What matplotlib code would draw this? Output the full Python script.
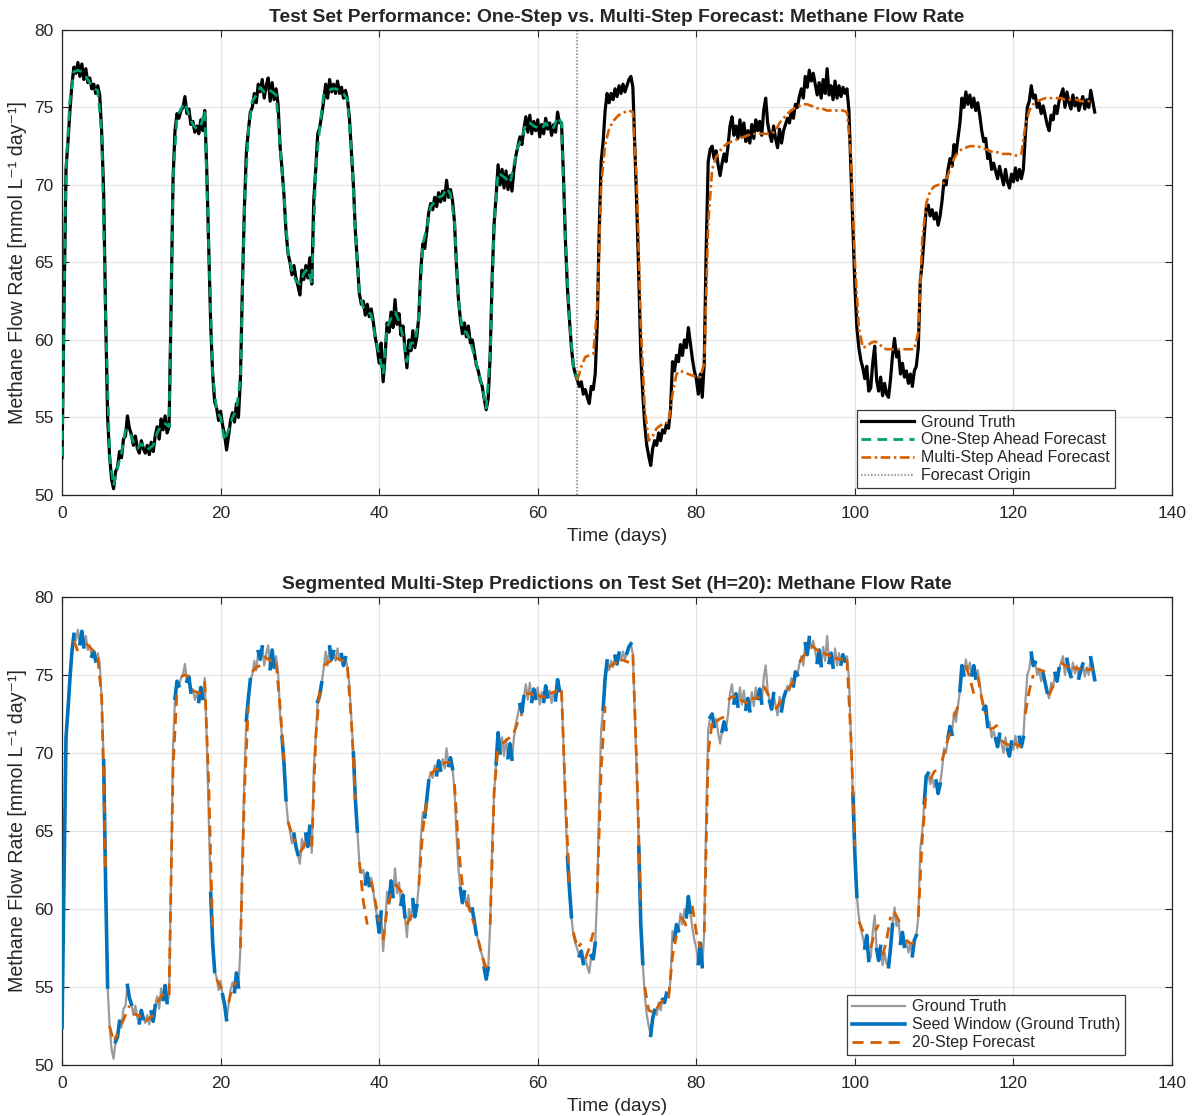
import numpy as np
import matplotlib
matplotlib.use("Agg")
import matplotlib.pyplot as plt

plt.rcParams["font.family"] = ["Liberation Sans", "DejaVu Sans"]
plt.rcParams["lines.scale_dashes"] = False

# ---------------------------------------------------------------------------
# Data
# ---------------------------------------------------------------------------
sample_step = 0.25          # days between ground-truth samples
forecast_origin = 65.0      # day where the multi-step rollout begins

# measured methane flow rate, four samples per day (rows = days 0..130)
methane_truth = [
    52.4, 62.0, 71.0, 72.8,  74.8, 76.5, 77.6, 77.2,  77.9, 77.0, 77.8, 76.8,
    77.5, 76.6, 76.9, 76.2,  76.5, 75.9, 76.4, 75.8,  73.4, 69.5, 61.5, 55.0,
    52.5, 51.0, 50.4, 51.5,  51.8, 52.8, 52.4, 53.6,  53.8, 55.1, 54.3, 53.9,
    53.2, 53.8, 53.0, 52.7,  53.5, 53.0, 52.7, 53.2,  52.6, 53.4, 52.8, 53.8,
    54.4, 53.6, 54.9, 54.2,  55.1, 54.0, 54.4, 62.0,  70.4, 73.5, 74.6, 74.3,
    74.8, 75.0, 75.7, 74.6,  74.9, 73.9, 74.1, 73.4,  73.8, 73.3, 74.2, 73.5,
    74.8, 71.0, 66.0, 61.0,  57.8, 56.0, 55.6, 54.8,  55.4, 54.5, 53.9, 52.9,
    53.8, 54.8, 55.3, 54.7,  55.9, 55.0, 57.5, 63.5,  68.5, 72.1, 73.5, 74.7,
    75.0, 75.9, 75.3, 76.5,  76.0, 76.8, 75.6, 76.4,  76.9, 75.4, 76.6, 75.5,
    76.2, 75.2, 72.5, 71.0,  69.3, 67.0, 65.6, 65.0,  64.2, 64.8, 64.0, 63.5,
    62.9, 64.5, 63.9, 64.8,  64.0, 65.3, 63.6, 69.0,  71.0, 73.3, 73.7, 74.5,
    75.4, 76.5, 75.6, 76.8,  76.0, 76.5, 75.9, 76.7,  75.9, 76.3, 75.6, 76.1,
    75.5, 74.3, 72.2, 70.0,  67.0, 65.0, 63.0, 62.3,  62.5, 61.6, 62.3, 61.5,
    62.0, 61.2, 60.2, 59.5,  58.5, 59.8, 57.3, 59.0,  61.1, 60.5, 61.8, 60.8,
    62.6, 61.0, 61.7, 60.3,  60.9, 59.5, 58.2, 60.0,  59.3, 60.6, 59.5, 60.2,
    61.5, 64.5, 66.2, 65.9,  67.0, 68.2, 68.8, 68.4,  69.2, 68.6, 69.5, 68.9,
    69.6, 69.0, 70.3, 69.2,  69.7, 69.0, 67.6, 64.8,  62.6, 61.3, 60.4, 61.1,
    60.2, 60.9, 59.8, 60.0,  59.2, 58.4, 58.0, 57.4,  57.0, 56.2, 55.5, 56.2,
    59.0, 64.0, 67.5, 69.3,  71.3, 70.0, 71.0, 69.8,  70.9, 69.7, 70.6, 69.6,
    71.0, 71.9, 72.5, 73.1,  72.6, 73.6, 74.4, 73.4,  74.5, 73.3, 74.1, 73.5,
    74.2, 73.1, 73.9, 73.3,  74.3, 73.6, 74.0, 73.2,  73.9, 73.4, 74.7, 74.0,
    74.0, 70.5, 66.3, 63.3,  61.3, 59.5, 58.3, 57.8,  57.4, 57.0, 57.3, 56.5,
    56.8, 56.3, 55.9, 57.0,  56.8, 57.8, 61.0, 67.0,  71.5, 72.8, 74.8, 75.9,
    75.3, 75.9, 75.5, 76.2,  75.7, 76.4, 75.9, 76.5,  76.0, 76.4, 76.8, 77.0,
    76.3, 72.5, 68.5, 64.0,  59.0, 56.5, 54.5, 53.2,  52.5, 51.9, 53.0, 53.5,
    53.2, 54.0, 53.5, 54.2,  54.0, 54.6, 54.3, 55.5,  58.6, 58.0, 59.0, 58.6,
    59.7, 59.0, 60.0, 59.5,  60.8, 59.8, 58.8, 58.0,  57.5, 56.5, 57.8, 56.3,
    58.5, 66.0, 71.5, 72.3,  72.5, 71.7, 72.2, 71.3,  70.6, 71.4, 72.0, 71.5,
    72.5, 73.8, 74.4, 73.2,  73.8, 73.0, 74.2, 73.1,  74.0, 72.8, 73.5, 72.7,
    73.9, 73.0, 74.2, 73.5,  74.1, 73.2, 74.8, 75.6,  74.0, 73.3, 72.8, 73.8,
    73.0, 72.4, 73.6, 72.7,  73.5, 73.9, 74.3, 74.0,  74.8, 74.3, 75.2, 75.0,
    75.7, 76.2, 75.6, 77.0,  76.3, 77.4, 76.7, 77.2,  76.5, 75.8, 76.6, 75.6,
    76.8, 75.9, 77.5, 75.8,  76.4, 75.5, 76.7, 75.6,  76.4, 75.7, 76.3, 75.9,
    76.2, 74.8, 71.0, 67.4,  63.5, 60.8, 59.5, 58.7,  58.2, 57.5, 58.3, 56.7,
    56.9, 58.5, 59.6, 57.4,  56.7, 57.6, 56.4, 57.2,  56.5, 56.3, 57.5, 59.0,
    60.1, 58.9, 59.3, 57.8,  58.5, 57.6, 58.0, 57.2,  57.8, 57.0, 58.0, 58.3,
    59.5, 63.8, 65.0, 66.8,  68.5, 68.7, 68.0, 68.4,  67.8, 68.2, 67.4, 68.0,
    69.0, 70.3, 70.0, 71.0,  71.7, 71.2, 72.6, 72.0,  73.0, 74.0, 75.6, 75.0,
    76.0, 75.2, 75.8, 75.0,  75.6, 74.8, 75.3, 74.5,  73.5, 72.8, 73.0, 71.7,
    72.0, 71.0, 71.4, 70.9,  70.4, 71.2, 70.6, 70.0,  71.0, 70.2, 69.8, 70.7,
    70.2, 71.1, 70.3, 71.0,  70.4, 71.0, 73.2, 75.0,  75.4, 76.4, 75.6, 75.8,
    75.0, 75.3, 74.6, 75.1,  74.5, 73.9, 73.5, 74.5,  74.2, 75.1, 74.6, 75.4,
    75.8, 76.2, 75.0, 76.0,  75.3, 74.9, 75.8, 75.1,  75.6, 74.8, 75.3, 75.7,
    74.9, 75.5, 75.0, 76.1,  75.4, 74.7,
]

# one-step-ahead predictions, two per day, days 0..65
one_step_pred = [
    52.5, 71.0, 75.5, 77.3, 77.4, 77.3, 77.0, 76.6, 76.2, 76.1,
    73.4, 61.5, 52.5, 50.6, 51.8, 52.7, 54.2, 54.1, 53.4, 53.0,
    53.3, 52.9, 53.0, 53.2, 54.0, 54.5, 54.6, 54.4, 70.4, 74.4,
    74.9, 75.3, 74.5, 73.9, 73.6, 73.8, 74.8, 66.0, 57.8, 55.4,
    55.0, 53.5, 54.2, 55.0, 55.5, 57.5, 68.5, 73.5, 75.4, 75.8,
    76.3, 76.0, 76.2, 76.0, 75.8, 72.5, 69.3, 65.6, 64.5, 63.8,
    63.6, 64.3, 64.6, 63.6, 71.0, 73.7, 75.8, 76.0, 76.2, 76.2,
    76.1, 75.9, 75.5, 72.2, 67.0, 63.0, 62.1, 61.9, 61.6, 60.2,
    59.0, 57.8, 60.8, 61.4, 61.8, 61.2, 60.2, 58.6, 59.8, 59.8,
    61.5, 66.2, 67.2, 68.6, 68.9, 69.2, 69.3, 69.8, 69.4, 67.6,
    62.6, 60.6, 60.5, 59.9, 59.0, 58.0, 57.0, 55.6, 59.0, 67.5,
    70.8, 70.6, 70.4, 70.1, 71.3, 72.5, 73.0, 74.0, 74.0, 73.8,
    73.7, 73.6, 74.0, 73.6, 73.7, 74.4, 74.0, 66.3, 61.3, 58.3,
    57.4,
]

# free-running multi-step predictions, two per day, days 65..130
multi_step_pred = [
    57.4, 58.3, 58.9, 59.0, 59.1, 62.0, 70.0, 72.6, 73.6, 74.1,
    74.4, 74.6, 74.7, 74.8, 74.7, 70.0, 61.0, 55.5, 53.5, 53.8,
    54.3, 54.5, 54.6, 54.7, 56.5, 57.8, 58.0, 57.9, 57.8, 57.7,
    57.6, 57.6, 58.5, 67.5, 71.0, 71.8, 72.2, 72.5, 72.7, 72.8,
    72.9, 73.0, 73.1, 73.2, 73.3, 73.3, 73.3, 73.3, 73.3, 73.3,
    73.5, 74.0, 74.3, 74.6, 74.8, 75.0, 75.1, 75.2, 75.2, 75.1,
    75.0, 74.9, 74.9, 74.8, 74.8, 74.8, 74.8, 74.8, 74.7, 72.0,
    65.0, 60.8, 59.5, 59.6, 59.8, 59.9, 59.8, 59.5, 59.4, 59.4,
    59.4, 59.4, 59.4, 59.4, 59.4, 59.4, 60.5, 66.5, 68.8, 69.6,
    69.9, 70.0, 70.0, 70.3, 71.0, 71.7, 72.1, 72.3, 72.4, 72.5,
    72.5, 72.5, 72.4, 72.3, 72.2, 72.1, 72.1, 72.0, 72.0, 72.0,
    71.9, 71.9, 72.0, 73.8, 74.8, 75.2, 75.4, 75.5, 75.6, 75.6,
    75.6, 75.6, 75.6, 75.5, 75.5, 75.5, 75.5, 75.4, 75.4, 75.4,
    75.4,
]

# segmented evaluation: a new 20-step forecast is launched every 1.5 days
# from the preceding seed window; each row holds the forecast at +0, +0.5
# and +1.0 day after launch
first_launch = 1.5
launch_every = 1.5
seed_length = 0.75
segment_forecasts = [
    [77.2, 76.5, 76.2], [77.0, 76.8, 76.5], [76.1, 73.6, 62.5], [52.5, 51.5, 52.0],
    [52.6, 53.2, 53.8], [53.3, 53.2, 53.1], [52.8, 53.0, 53.2], [54.0, 54.4, 54.6],
    [54.5, 69.0, 74.0], [74.9, 75.0, 74.9], [74.0, 73.9, 73.8], [74.6, 68.0, 58.5],
    [55.5, 55.0, 54.6], [54.0, 55.0, 55.3], [57.5, 67.5, 73.0], [75.2, 75.5, 75.6],
    [76.2, 76.0, 75.9], [75.8, 73.0, 69.5], [65.6, 64.8, 64.3], [63.6, 64.0, 64.5],
    [64.0, 71.0, 74.0], [75.6, 75.8, 75.9], [76.1, 76.0, 75.9], [75.5, 72.0, 67.0],
    [63.0, 60.5, 59.0], [61.8, 60.5, 59.2], [58.0, 60.0, 61.0], [61.6, 61.3, 61.0],
    [59.0, 59.5, 60.0], [61.5, 65.0, 67.0], [68.6, 68.9, 69.0], [69.3, 69.4, 69.4],
    [68.0, 64.0, 61.5], [60.5, 59.8, 59.0], [58.0, 57.0, 56.2], [59.0, 67.5, 70.5],
    [70.6, 70.8, 71.0], [71.3, 72.0, 72.5], [73.8, 73.8, 73.7], [73.7, 73.6, 73.6],
    [73.8, 73.9, 74.0], [74.0, 67.0, 61.5], [58.5, 57.5, 57.8], [56.8, 57.5, 58.5],
    [61.0, 69.0, 73.0], [75.5, 75.7, 75.8], [76.0, 75.9, 75.8], [76.3, 69.0, 60.0],
    [55.0, 53.5, 53.4], [53.6, 54.0, 54.2], [54.3, 57.0, 58.3], [59.5, 59.2, 58.5],
    [60.2, 58.5, 57.5], [58.5, 70.0, 72.0], [72.0, 72.2, 72.3], [73.4, 73.6, 73.6],
    [73.4, 73.3, 73.2], [73.5, 73.5, 73.6], [74.3, 73.8, 73.4], [72.8, 73.2, 73.5],
    [74.0, 74.4, 74.7], [75.8, 76.2, 76.5], [76.9, 76.7, 76.5], [76.4, 76.3, 76.2],
    [76.1, 76.0, 76.0], [76.0, 71.0, 64.0], [59.2, 58.6, 58.2], [57.5, 58.5, 59.0],
    [57.0, 58.0, 59.5], [59.8, 59.3, 58.8], [58.0, 57.8, 57.8], [59.5, 64.5, 67.5],
    [68.3, 68.8, 69.0], [69.5, 70.5, 71.3], [72.3, 73.0, 73.3], [75.6, 74.8, 73.8],
    [74.9, 73.5, 72.5], [71.5, 71.6, 71.8], [70.8, 70.6, 70.5], [70.6, 70.5, 70.4],
    [72.5, 74.0, 75.0], [75.4, 75.3, 75.2], [73.7, 74.3, 74.7], [75.8, 75.6, 75.5],
    [75.5, 75.4, 75.4], [75.4, 75.4, 75.4],
]

x_ticks = [0, 20, 40, 60, 80, 100, 120, 140]
y_ticks = [50, 55, 60, 65, 70, 75, 80]

# ---------------------------------------------------------------------------
# Style
# ---------------------------------------------------------------------------
TEXT = "#262626"
C_TRUTH = "#000000"
C_ONE = "#009E73"
C_MULTI = "#D55E00"
C_ORIGIN = "#A6A6A6"
C_GRAY = "#9a9a9a"
C_SEED = "#0072BD"
Y_LABEL = "Methane Flow Rate [mmol L\u207b\u00b9 day\u207b\u00b9]"


def style_axes(ax, title):
    ax.set_xlim(0, 140)
    ax.set_ylim(50, 80)
    ax.set_xticks(x_ticks)
    ax.set_yticks(y_ticks)
    ax.grid(True, color="#e4e4e4", linewidth=0.9)
    ax.set_axisbelow(True)
    ax.tick_params(direction="in", length=5, width=0.8, colors=TEXT,
                   labelsize=12.5, top=True, right=True)
    ax.tick_params(axis="x", pad=8)
    ax.tick_params(axis="y", pad=6)
    for s in ax.spines.values():
        s.set_color(TEXT)
        s.set_linewidth(0.9)
    ax.set_title(title, fontsize=13.9, fontweight="bold", color=TEXT, pad=6)
    ax.set_xlabel("Time (days)", fontsize=13.8, color=TEXT, labelpad=5)
    ax.set_ylabel(Y_LABEL, fontsize=14.1, color=TEXT, labelpad=5)


def add_legend(ax, anchor):
    leg = ax.legend(loc="lower right", bbox_to_anchor=anchor,
                    fontsize=11.5, frameon=True, fancybox=False, framealpha=1,
                    edgecolor="#3a3a3a", handlelength=3.3, handletextpad=0.45,
                    labelspacing=0.18, borderpad=0.3, borderaxespad=0)
    leg.get_frame().set_linewidth(0.9)
    for txt in leg.get_texts():
        txt.set_color(TEXT)


fig = plt.figure(figsize=(11.93, 11.16), dpi=100)
ax1 = fig.add_axes([0.052, 0.5565, 0.9304, 0.4167])
ax2 = fig.add_axes([0.052, 0.0457, 0.9304, 0.4194])

truth = np.array(methane_truth)
t = np.arange(truth.size) * sample_step

# --- top panel: one-step vs. free-running multi-step ---
one = np.array(one_step_pred)
t_one = np.arange(one.size) * 0.5
multi = np.array(multi_step_pred)
t_multi = forecast_origin + np.arange(multi.size) * 0.5

ax1.plot(t, truth, color=C_TRUTH, lw=2.3, label="Ground Truth", zorder=3)
ax1.plot(t_one, one, color=C_ONE, lw=2.0, dashes=(7, 4.5),
         label="One-Step Ahead Forecast", zorder=4)
ax1.plot(t_multi, multi, color=C_MULTI, lw=1.9, dashes=(7, 2.5, 1.8, 2.5),
         label="Multi-Step Ahead Forecast", zorder=4)
ax1.axvline(forecast_origin, color=C_ORIGIN, lw=1.6, dashes=(1.2, 1.2),
            label="Forecast Origin", zorder=2)
style_axes(ax1, "Test Set Performance: One-Step vs. Multi-Step Forecast: Methane Flow Rate")
add_legend(ax1, (0.9486, 0.015))

# --- bottom panel: segmented rollouts ---
phase = t % launch_every
in_seed = (t <= first_launch) | (phase >= launch_every - seed_length)
seed = np.where(in_seed, truth, np.nan)
ax2.plot(t, truth, color=C_GRAY, lw=1.6, label="Ground Truth", zorder=2)
ax2.plot(t, seed, color=C_SEED, lw=2.6, label="Seed Window (Ground Truth)", zorder=3)
for k, vals in enumerate(segment_forecasts):
    launch = first_launch + k * launch_every
    tf = launch + np.arange(len(vals)) * 0.5
    ax2.plot(tf, vals, color=C_MULTI, lw=2.0, dashes=(8, 5),
             label="20-Step Forecast" if k == 0 else None, zorder=4)
style_axes(ax2, "Segmented Multi-Step Predictions on Test Set (H=20): Methane Flow Rate")
add_legend(ax2, (0.9577, 0.0214))

fig.savefig("out.png", dpi=100)
